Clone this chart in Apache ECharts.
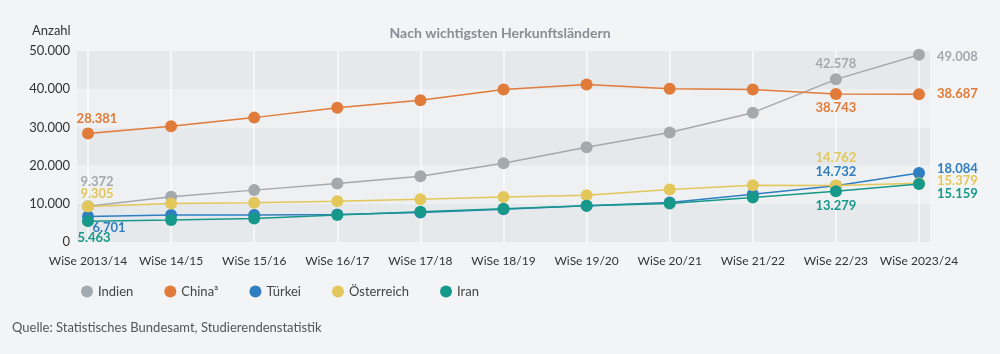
<!DOCTYPE html>
<html>
<head>
<meta charset="utf-8">
<script src="https://cdn.jsdelivr.net/npm/echarts@6/dist/echarts.min.js"></script>
<style>
  html, body { margin: 0; padding: 0; background: #f2f4f5; }
  #chart { width: 1000px; height: 354px; }
</style>
</head>
<body>
<div id="chart"></div>
<script>
'use strict';

// Daten
const semesters = ['WiSe 2013/14', 'WiSe 14/15', 'WiSe 15/16', 'WiSe 16/17', 'WiSe 17/18', 'WiSe 18/19',
  'WiSe 19/20', 'WiSe 20/21', 'WiSe 21/22', 'WiSe 22/23', 'WiSe 2023/24'];
const indien = [9372, 11830, 13580, 15320, 17230, 20630, 24800, 28640, 33860, 42578, 49008];
const china = [28381, 30290, 32560, 35170, 37080, 39950, 41250, 40130, 39950, 38743, 38687];
const tuerkei = [6701, 7050, 7100, 7230, 7700, 8600, 9500, 10360, 12530, 14732, 18084];
const oesterreich = [9305, 10100, 10300, 10700, 11200, 11750, 12270, 13760, 14880, 14762, 15379];
const iran = [5463, 5740, 6180, 7050, 7900, 8700, 9500, 10100, 11670, 13279, 15159];
const yTicks = [0, 10000, 20000, 30000, 40000, 50000];

const fmt = v => String(v).replace(/\B(?=(\d{3})+(?!\d))/g, '.');
const font = 'Lato, "Open Sans", sans-serif';

// Beschriftungen: Index -> [Position, Versatz]
function makeSeries(name, values, color, labels) {
  return {
    name: name,
    type: 'line',
    data: values.map((v, i) => {
      const l = labels[i];
      const item = { value: v };
      if (l) {
        item.label = {
          show: true, position: l[0], offset: l[1], distance: 5,
          color: color, fontWeight: 'bold', fontSize: 13, fontFamily: font,
          formatter: p => fmt(p.value)
        };
      }
      return item;
    }),
    symbol: 'circle',
    symbolSize: 12,
    itemStyle: { color: color },
    lineStyle: { color: color, width: 1.5 },
    label: { show: false },
    z: 3
  };
}

const chart = echarts.init(document.getElementById('chart'), null, { renderer: 'canvas' });
const option = {
  backgroundColor: '#f2f4f5',
  animation: false,
  title: {
    text: 'Nach wichtigsten Herkunftsländern',
    left: 'center', top: 21,
    textStyle: { color: '#878e95', fontSize: 14, fontWeight: 'bold', fontFamily: font }
  },
  graphic: [
    { type: 'text', left: 32, top: 24, style: { text: 'Anzahl', fill: '#333', font: '13px ' + font } },
    { type: 'text', left: 12, top: 321, style: { text: 'Quelle: Statistisches Bundesamt, Studierendenstatistik', fill: '#555', font: '13px ' + font } }
  ],
  legend: {
    left: 76, top: 280,
    icon: 'circle', itemWidth: 12, itemHeight: 12, itemGap: 31,
    textStyle: { color: '#444', fontSize: 13, fontFamily: font },
    data: ['Indien', 'China³', 'Türkei', 'Österreich', 'Iran']
  },
  grid: [
    { left: 88, right: 81, top: 51, bottom: 112 },
    { left: 77, right: 70, top: 51, bottom: 112 }
  ],
  xAxis: [
    {
      type: 'category', gridIndex: 0, data: semesters, boundaryGap: false,
      axisLine: { show: false }, axisTick: { show: false },
      axisLabel: { color: '#333', fontSize: 12, fontFamily: font, margin: 13, interval: 0 },
      splitLine: { show: true, lineStyle: { color: '#ffffff', width: 1.5, opacity: 0.8 } }
    },
    { type: 'value', gridIndex: 1, show: false, min: 0, max: 1 }
  ],
  yAxis: [
    { type: 'value', gridIndex: 0, min: 0, max: 50000, interval: 10000, show: false },
    {
      type: 'value', gridIndex: 1, min: yTicks[0], max: yTicks[yTicks.length - 1], interval: 10000,
      axisLine: { show: false }, axisTick: { show: false },
      axisLabel: { color: '#333', fontSize: 13, fontFamily: font, margin: 7, formatter: v => fmt(v) },
      splitLine: { show: false },
      splitArea: { show: true, areaStyle: { color: ['#e6e9ec', '#eef0f2'] } },
      z: 0
    }
  ],
  series: [
    makeSeries('Indien', indien, '#a4a9ae', { 0: ['top', [9, -7]], 9: ['top', [0, 2]], 10: ['right', [7, 2]] }),
    makeSeries('China³', china, '#e07b39', { 0: ['top', [9, 3]], 9: ['bottom', [0, -4]], 10: ['right', [7, 0]] }),
    makeSeries('Türkei', tuerkei, '#2e7ec0', { 0: ['bottom', [21, -6]], 9: ['top', [0, 4]], 10: ['right', [7, -4]] }),
    makeSeries('Österreich', oesterreich, '#e4c75a', { 0: ['top', [9, 5]], 9: ['top', [0, -10]], 10: ['right', [7, -2]] }),
    makeSeries('Iran', iran, '#17998a', { 0: ['bottom', [6, -1]], 9: ['bottom', [0, -3]], 10: ['right', [7, 10]] })
  ]
};
option && chart.setOption(option);
</script>
</body>
</html>
